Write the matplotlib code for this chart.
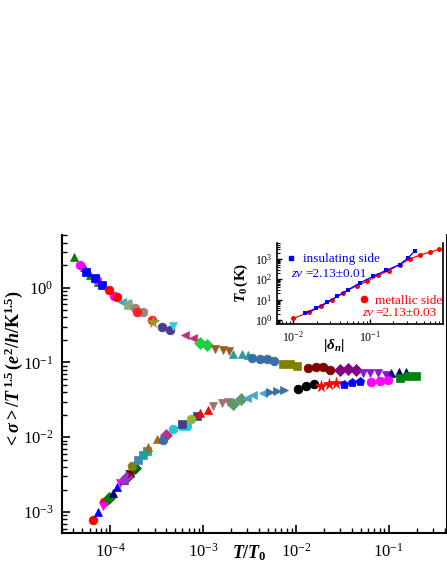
import math
import matplotlib
matplotlib.use("Agg")
import matplotlib.pyplot as plt
from matplotlib.ticker import LogLocator, FuncFormatter, NullFormatter
from matplotlib.lines import Line2D

plt.rcParams['font.family'] = ['Liberation Serif', 'DejaVu Serif']
plt.rcParams['mathtext.fontset'] = 'custom'
plt.rcParams['mathtext.rm'] = 'Liberation Serif:bold'
plt.rcParams['mathtext.it'] = 'Liberation Serif:bold:italic'
plt.rcParams['mathtext.bf'] = 'Liberation Serif:bold'

# ---------------- main panel data ----------------
# insulating side (upper branch)
ins_colors = ['#008000', '#ff00ff', '#0000ff', '#ff0000', '#20b0c8', '#8fa878', '#a08080',
              '#ff2020', '#999933', '#483d8b', '#40c8e0', '#c0307a', '#22cc44', '#9a6020',
              '#2a9e9e', '#3a6ea5', '#808000', '#800000', '#800080', '#9010e0', '#000080', '#008010']
ins_markers = ['^', 'o', 's', 'o', '<', 's', 'o', 'o', '*', 'o', 'v', '<', 'D', 'v',
               '^', 'o', 's', 'o', 'D', 'v', '^', 's']
ins_x = [
    [4.1e-5, 5.16e-5, 6.1e-5, 7.36e-5],
    [4.76e-5, 7.19e-5, 1.086e-4],
    [5.52e-5, 6.9e-5, 8.13e-5],
    [9.6e-5, 1.18e-4],
    [1.33e-4, 1.51e-4],
    [1.57e-4],
    [1.86e-4, 2.25e-4],
    [1.95e-4, 2.81e-4],
    [2.92e-4],
    [3.6e-4, 4.42e-4],
    [4.72e-4],
    [6.4e-4, 7.87e-4],
    [9.29e-4, 1.09e-3],
    [1.35e-3, 1.63e-3, 1.92e-3],
    [2.12e-3, 2.6e-3, 3.07e-3],
    [3.39e-3, 4.1e-3, 4.84e-3, 5.8e-3],
    [7.3e-3, 8.6e-3, 1.04e-2],
    [1.36e-2, 1.64e-2, 1.97e-2, 2.36e-2],
    [2.97e-2, 3.66e-2, 4.42e-2],
    [5.28e-2, 6.35e-2, 7.67e-2, 9.29e-2],
    [0.107, 0.129, 0.155],
    [0.134, 0.161, 0.195],
]
ins_y = [
    [2.54, 1.87, 1.48, 1.18],
    [2.01, 1.27, 0.775],
    [1.64, 1.33, 1.09],
    [0.93, 0.76],
    [0.65, 0.62],
    [0.587],
    [0.53, 0.469],
    [0.478, 0.371],
    [0.352],
    [0.296, 0.272],
    [0.308],
    [0.234, 0.211],
    [0.181, 0.172],
    [0.152, 0.147, 0.144],
    [0.130, 0.129, 0.126],
    [0.114, 0.112, 0.111, 0.103],
    [0.0958, 0.0958, 0.090],
    [0.0839, 0.0865, 0.0865, 0.078],
    [0.078, 0.0814, 0.0796],
    [0.0733, 0.0719, 0.0719, 0.0683],
    [0.0733, 0.075, 0.075],
    [0.0617, 0.0649, 0.0662],
]

# metallic side (lower branch)
met_colors = ['#ff0000', '#0000ff', '#ff00ff', '#008000', '#000080', '#9932cc', '#800000',
              '#006400', '#808000', '#4682b4', '#20a0a0', '#a06a20', '#c0308a', '#3a6ea5',
              '#20c8d0', '#483d8b', '#99b030', '#ff0000', '#a07070', '#5a9a6a', '#40a8d8',
              '#3a6ea5', '#000000', '#ff0000', '#0000ff', '#ff00ff']
met_markers = ['o', '^', 'v', 'D', '^', 'o', '*', 'D', 'o', 's', 's', '^', 'D', 'o',
               'o', 's', 'o', '^', 'v', 'D', '<', '>', 'o', '*', 'p', 'o']
met_x = [
    [6.6e-5, 8.5e-5],
    [7.4e-5, 1.18e-4],
    [8.3e-5, 1.28e-4],
    [9.6e-5, 1.54e-4],
    [1.07e-4, 1.39e-4],
    [1.39e-4, 1.6e-4],
    [1.67e-4],
    [1.83e-4],
    [1.71e-4],
    [2.01e-4],
    [2.28e-4, 2.48e-4],
    [2.58e-4, 3.18e-4],
    [4.0e-4],
    [3.74e-4],
    [4.72e-4, 5.9e-4, 6.68e-4],
    [5.9e-4, 8.55e-4],
    [7.38e-4],
    [9.29e-4, 1.14e-3],
    [1.29e-3, 1.59e-3, 1.87e-3],
    [2.12e-3, 2.54e-3],
    [2.95e-3, 3.48e-3, 4.45e-3],
    [5.25e-3, 6.29e-3, 7.48e-3],
    [1.06e-2, 1.30e-2, 1.56e-2],
    [1.85e-2, 2.28e-2, 2.74e-2],
    [3.27e-2, 4.06e-2, 4.88e-2],
    [6.5e-2, 8.14e-2, 9.8e-2],
]
met_y = [
    [7.8e-4, 1.35e-3],
    [9.9e-4, 2.16e-3],
    [1.22e-3, 2.45e-3],
    [1.54e-3, 3.0e-3],
    [1.8e-3, 2.71e-3],
    [2.71e-3, 3.1e-3],
    [3.39e-3],
    [3.87e-3],
    [4.17e-3],
    [5.0e-3],
    [5.84e-3, 6.47e-3],
    [7.5e-3, 9.46e-3],
    [1.08e-2],
    [9.26e-3],
    [1.29e-2, 1.42e-2, 1.42e-2],
    [1.51e-2, 1.94e-2],
    [1.75e-2],
    [2.1e-2, 2.28e-2],
    [2.58e-2, 2.91e-2, 3.0e-2],
    [2.8e-2, 3.24e-2],
    [3.34e-2, 3.69e-2, 3.89e-2],
    [4.08e-2, 4.21e-2, 4.31e-2],
    [4.4e-2, 4.87e-2, 5.13e-2],
    [4.77e-2, 5.18e-2, 5.29e-2],
    [5.13e-2, 5.39e-2, 5.56e-2],
    [5.46e-2, 5.73e-2, 5.86e-2],
]

# ---------------- inset data ----------------
ins_delta = [0.0142, 0.0197, 0.0272, 0.0373, 0.0518, 0.0734, 0.109, 0.163, 0.243, 0.312, 0.381]
ins_T0 = [2.1, 3.8, 7.2, 14.2, 30.6, 65.7, 139, 276, 527, 1130, 2400]
met_delta = [0.01, 0.0161, 0.0229, 0.0315, 0.0438, 0.0665, 0.0914, 0.127, 0.175, 0.243,
             0.335, 0.442, 0.596, 0.80]
met_T0 = [1.2, 2.4, 4.6, 9.8, 21, 48, 79, 156, 267, 527, 1000, 1520, 2140, 2930]

W, H = 447, 578
fig = plt.figure(figsize=(W / 100, H / 100), dpi=100)
ax = fig.add_axes([61.7 / W, (H - 533.3) / H, (446.5 - 61.7) / W, (533.3 - 235.3) / H])

for c, m, xs, ys in zip(ins_colors, ins_markers, ins_x, ins_y):
    ms = 8.5 if m == '*' else 6.3
    ax.plot(xs, ys, linestyle='none', marker=m, color=c, markersize=ms, markeredgewidth=0.5)
for c, m, xs, ys in zip(met_colors, met_markers, met_x, met_y):
    ms = 8.5 if m == '*' else 6.3
    ax.plot(xs, ys, linestyle='none', marker=m, color=c, markersize=ms, markeredgewidth=0.5)

ax.set_xscale('log')
ax.set_yscale('log')
ax.set_xlim(3.0e-5, 0.42)
ax.set_ylim(5.2e-4, 5.0)

fmt = FuncFormatter(lambda v, p: r'$\mathregular{10^{%d}}$' % round(math.log10(v)))
for axis in (ax.xaxis, ax.yaxis):
    axis.set_major_locator(LogLocator(base=10, numticks=15))
    axis.set_minor_locator(LogLocator(base=10, subs=range(2, 10), numticks=15))
    axis.set_major_formatter(fmt)
    axis.set_minor_formatter(NullFormatter())
ax.tick_params(which='major', direction='in', length=6, width=1.2, labelsize=12, pad=6)
ax.tick_params(which='minor', direction='in', length=3.5, width=1.0)
ax.tick_params(axis='x', pad=7)
for s in ax.spines.values():
    s.set_linewidth(1.5)
ax.spines['top'].set_visible(False)

ax.set_ylabel(r'$<\sigma>/T^{\,1.5}\,(e^{2}/h/\mathrm{K}^{1.5})$', fontsize=13)
ax.yaxis.set_label_coords(-0.095, 0.55)
ax.set_xlabel(r'$T/T_{0}$', fontsize=13)
ax.xaxis.set_label_coords(0.489, -0.033)

# ---------------- inset ----------------
axi = fig.add_axes([277 / W, (H - 323.5) / H, (443 - 277) / W, (323.5 - 243) / H])
axi.plot(met_delta, met_T0, color='#ff0000', linewidth=0.9, marker='o', markersize=3.6,
         markeredgewidth=0)
axi.plot(ins_delta, ins_T0, color='#0000ff', linewidth=0.9, marker='s', markersize=3.2,
         markeredgewidth=0)
axi.set_xscale('log')
axi.set_yscale('log')
axi.set_xlim(0.0061, 0.89)
axi.set_ylim(0.67, 6000)
for axis in (axi.xaxis, axi.yaxis):
    axis.set_major_locator(LogLocator(base=10, numticks=15))
    axis.set_minor_locator(LogLocator(base=10, subs=range(2, 10), numticks=15))
    axis.set_major_formatter(fmt)
    axis.set_minor_formatter(NullFormatter())
axi.tick_params(which='major', direction='in', length=3.5, width=1.0, labelsize=8.5, pad=3)
axi.tick_params(which='minor', direction='in', length=2, width=0.8)
axi.tick_params(axis='x', pad=5)
for s in axi.spines.values():
    s.set_linewidth(1.2)
axi.spines['top'].set_visible(False)
axi.set_ylabel(r'$T_{0}\,\mathrm{(K)}$', fontsize=11)
axi.set_xlabel(r'$|\delta_{n}|$', fontsize=11)
axi.xaxis.set_label_coords(0.34, -0.17)

leg1 = axi.legend([Line2D([], [], linestyle='none', marker='s', color='#0000ff', markersize=3.5)],
                  ['insulating side'], loc='center left', bbox_to_anchor=(0.052, 0.80),
                  frameon=False, fontsize=9.5, handlelength=0.8, handletextpad=0.5,
                  borderpad=0, borderaxespad=0, labelcolor='#0000ff')
axi.add_artist(leg1)
axi.legend([Line2D([], [], linestyle='none', marker='o', color='#ff0000', markersize=4.5)],
           ['metallic side'], loc='center left', bbox_to_anchor=(0.49, 0.28),
           frameon=False, fontsize=9.5, handlelength=0.8, handletextpad=0.5,
           borderpad=0, borderaxespad=0, labelcolor='#ff0000')
axi.text(0.088, 0.62, 'z\u03bd', transform=axi.transAxes, color='#0000ff', fontsize=9.5,
         va='center', ha='left', fontstyle='italic')
axi.text(0.17, 0.62, '=2.13\u00b10.01', transform=axi.transAxes, color='#0000ff',
         fontsize=9.5, va='center', ha='left')
axi.text(0.51, 0.13, 'z\u03bd', transform=axi.transAxes, color='#ff0000', fontsize=9.5,
         va='center', ha='left', fontstyle='italic')
axi.text(0.592, 0.13, '=2.13\u00b10.03', transform=axi.transAxes, color='#ff0000',
         fontsize=9.5, va='center', ha='left')

fig.savefig('out.png', dpi=100)
